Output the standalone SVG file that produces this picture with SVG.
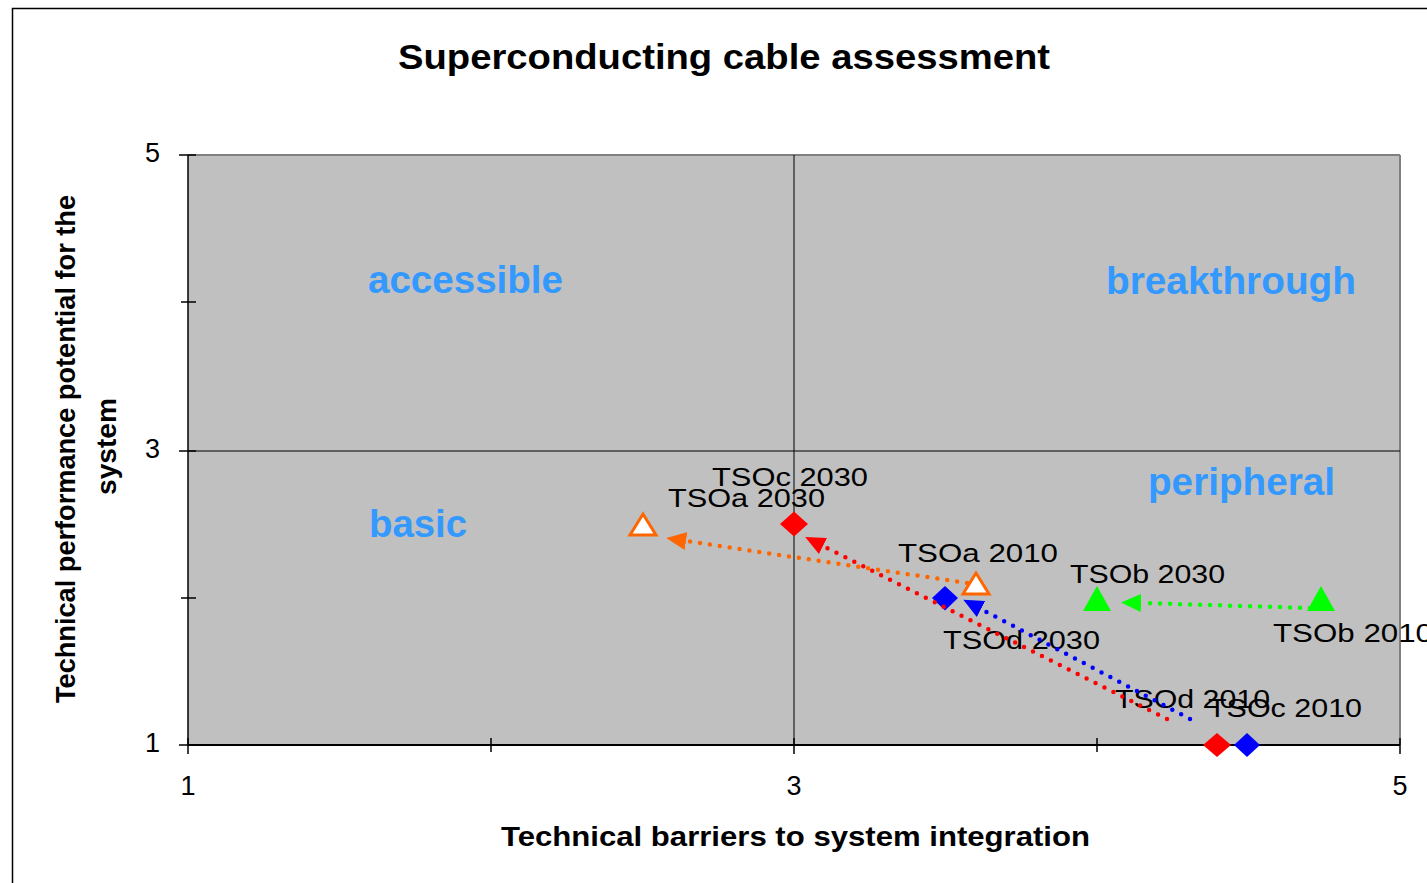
<svg xmlns="http://www.w3.org/2000/svg" width="1427" height="883" viewBox="0 0 1427 883">
<style>
text{font-family:"Liberation Sans",Arial,sans-serif;}
.title{font-size:35px;font-weight:bold;fill:#000;}
.axt{font-size:28px;font-weight:bold;fill:#000;}
.tick{font-size:27px;fill:#000;}
.quad{font-size:38px;font-weight:bold;fill:#3399FF;}
.lbl{font-size:26px;fill:#000;}
.tk{stroke:#000;stroke-width:1.5;}
.dot{fill:none;stroke-width:4.5;stroke-linecap:round;stroke-dasharray:0 10;}
.red{fill:#FF0000;}
.blue{fill:#0000FF;}
.green{fill:#00FF00;}
.open{fill:#FFFFFF;stroke:#FF6600;stroke-width:3;}
</style>
<defs>
<marker id="ahO" markerUnits="userSpaceOnUse" viewBox="0 0 20 18" markerWidth="20" markerHeight="18" refX="0" refY="9" orient="auto"><path d="M0,0 L20,9 L0,18 z" fill="#FF6600"/></marker>
<marker id="ahR" markerUnits="userSpaceOnUse" viewBox="0 0 20 18" markerWidth="20" markerHeight="18" refX="0" refY="9" orient="auto"><path d="M0,0 L20,9 L0,18 z" fill="#FF0000"/></marker>
<marker id="ahB" markerUnits="userSpaceOnUse" viewBox="0 0 20 18" markerWidth="20" markerHeight="18" refX="0" refY="9" orient="auto"><path d="M0,0 L20,9 L0,18 z" fill="#0000FF"/></marker>
<marker id="ahG" markerUnits="userSpaceOnUse" viewBox="0 0 20 18" markerWidth="20" markerHeight="18" refX="0" refY="9" orient="auto"><path d="M0,0 L20,9 L0,18 z" fill="#00FF00"/></marker>
</defs>
<rect x="0" y="0" width="1427" height="883" fill="#FFFFFF"/>
<rect x="12.5" y="8.5" width="1430" height="890" fill="none" stroke="#000" stroke-width="1.5"/>
<text class="title" x="398" y="69" textLength="652" lengthAdjust="spacingAndGlyphs">Superconducting cable assessment</text>
<g id="plot">
<rect x="188" y="155" width="1212" height="590" fill="#C0C0C0"/>
<line x1="188" y1="155" x2="1400" y2="155" stroke="#808080" stroke-width="2"/>
<line x1="1400" y1="155" x2="1400" y2="745" stroke="#808080" stroke-width="2"/>
<line x1="794" y1="155" x2="794" y2="745" stroke="#000" stroke-width="1"/>
<line x1="188" y1="451" x2="1400" y2="451" stroke="#000" stroke-width="1"/>
<line x1="188" y1="155" x2="188" y2="746" stroke="#000" stroke-width="1.5"/>
<line x1="188" y1="745" x2="1400" y2="745" stroke="#000" stroke-width="2"/>
<line class="tk" x1="179" y1="155" x2="196" y2="155"/>
<line class="tk" x1="181" y1="302" x2="196" y2="302"/>
<line class="tk" x1="179" y1="451" x2="196" y2="451"/>
<line class="tk" x1="181" y1="598" x2="196" y2="598"/>
<line class="tk" x1="179" y1="745" x2="196" y2="745"/>
<line class="tk" x1="188" y1="738" x2="188" y2="754"/>
<line class="tk" x1="491" y1="738" x2="491" y2="752"/>
<line class="tk" x1="794" y1="738" x2="794" y2="754"/>
<line class="tk" x1="1097" y1="738" x2="1097" y2="752"/>
<line class="tk" x1="1400" y1="738" x2="1400" y2="754"/>
<text class="tick" x="160" y="162" text-anchor="end">5</text>
<text class="tick" x="160" y="458" text-anchor="end">3</text>
<text class="tick" x="160" y="752" text-anchor="end">1</text>
<text class="tick" x="188" y="795" text-anchor="middle">1</text>
<text class="tick" x="794" y="795" text-anchor="middle">3</text>
<text class="tick" x="1400" y="795" text-anchor="middle">5</text>
<text class="axt" x="501" y="846" textLength="589" lengthAdjust="spacingAndGlyphs">Technical barriers to system integration</text>
<text class="axt" transform="translate(75,703) rotate(-90)" x="0" y="0" font-size="27" textLength="508" lengthAdjust="spacingAndGlyphs">Technical performance potential for the</text>
<text class="axt" transform="translate(116,495) rotate(-90)" x="0" y="0" font-size="27" textLength="97" lengthAdjust="spacingAndGlyphs">system</text>
<text class="quad" x="368" y="293" textLength="195" lengthAdjust="spacingAndGlyphs">accessible</text>
<text class="quad" x="1106" y="294" textLength="250" lengthAdjust="spacingAndGlyphs">breakthrough</text>
<text class="quad" x="1148" y="495" textLength="187" lengthAdjust="spacingAndGlyphs">peripheral</text>
<text class="quad" x="369" y="537" textLength="98" lengthAdjust="spacingAndGlyphs">basic</text>
</g>
<g id="node-tsoc-2030">
<polygon class="red" points="780,524 794,511.5 808,524 794,536.5"/>
<text class="lbl" x="712" y="486" textLength="156" lengthAdjust="spacingAndGlyphs">TSOc 2030</text>
</g>
<g id="node-tsoa-2030">
<polygon class="open" points="643,514 656,535 630,535"/>
<text class="lbl" x="668" y="507" textLength="157" lengthAdjust="spacingAndGlyphs">TSOa 2030</text>
</g>
<g id="node-tsoa-2010">
<polygon class="open" points="976,573 989,594 963,594"/>
<text class="lbl" x="898" y="562" textLength="160" lengthAdjust="spacingAndGlyphs">TSOa 2010</text>
</g>
<g id="node-tsod-2030">
<polygon class="blue" points="932,598 945,586 958,598 945,610.5"/>
<text class="lbl" x="943" y="649" textLength="157" lengthAdjust="spacingAndGlyphs">TSOd 2030</text>
</g>
<g id="node-tsob-2030">
<polygon class="green" points="1097,586 1111,611 1083,611"/>
<text class="lbl" x="1070" y="583" textLength="155" lengthAdjust="spacingAndGlyphs">TSOb 2030</text>
</g>
<g id="node-tsob-2010">
<polygon class="green" points="1321,586 1335,611 1307,611"/>
<text class="lbl" x="1273" y="642" textLength="160" lengthAdjust="spacingAndGlyphs">TSOb 2010</text>
</g>
<g id="node-tsod-2010">
<polygon class="blue" points="1234,745 1247,733 1260,745 1247,757"/>
<text class="lbl" x="1115" y="708" textLength="155" lengthAdjust="spacingAndGlyphs">TSOd 2010</text>
</g>
<g id="node-tsoc-2010">
<polygon class="red" points="1203,745 1217,733 1231,745 1217,757"/>
<text class="lbl" x="1208" y="717" textLength="154" lengthAdjust="spacingAndGlyphs">TSOc 2010</text>
</g>
<g id="connectors">
<path class="dot" d="M967,583 L686,541" stroke="#FF6600" marker-end="url(#ahO)"/>
<path class="dot" d="M1167,719 L823,546" stroke="#FF0000" marker-end="url(#ahR)"/>
<path class="dot" d="M1190,719 L981,609" stroke="#0000FF" marker-end="url(#ahB)"/>
<path class="dot" d="M1310,608 L1141,603" stroke="#00FF00" marker-end="url(#ahG)"/>
</g>
</svg>
